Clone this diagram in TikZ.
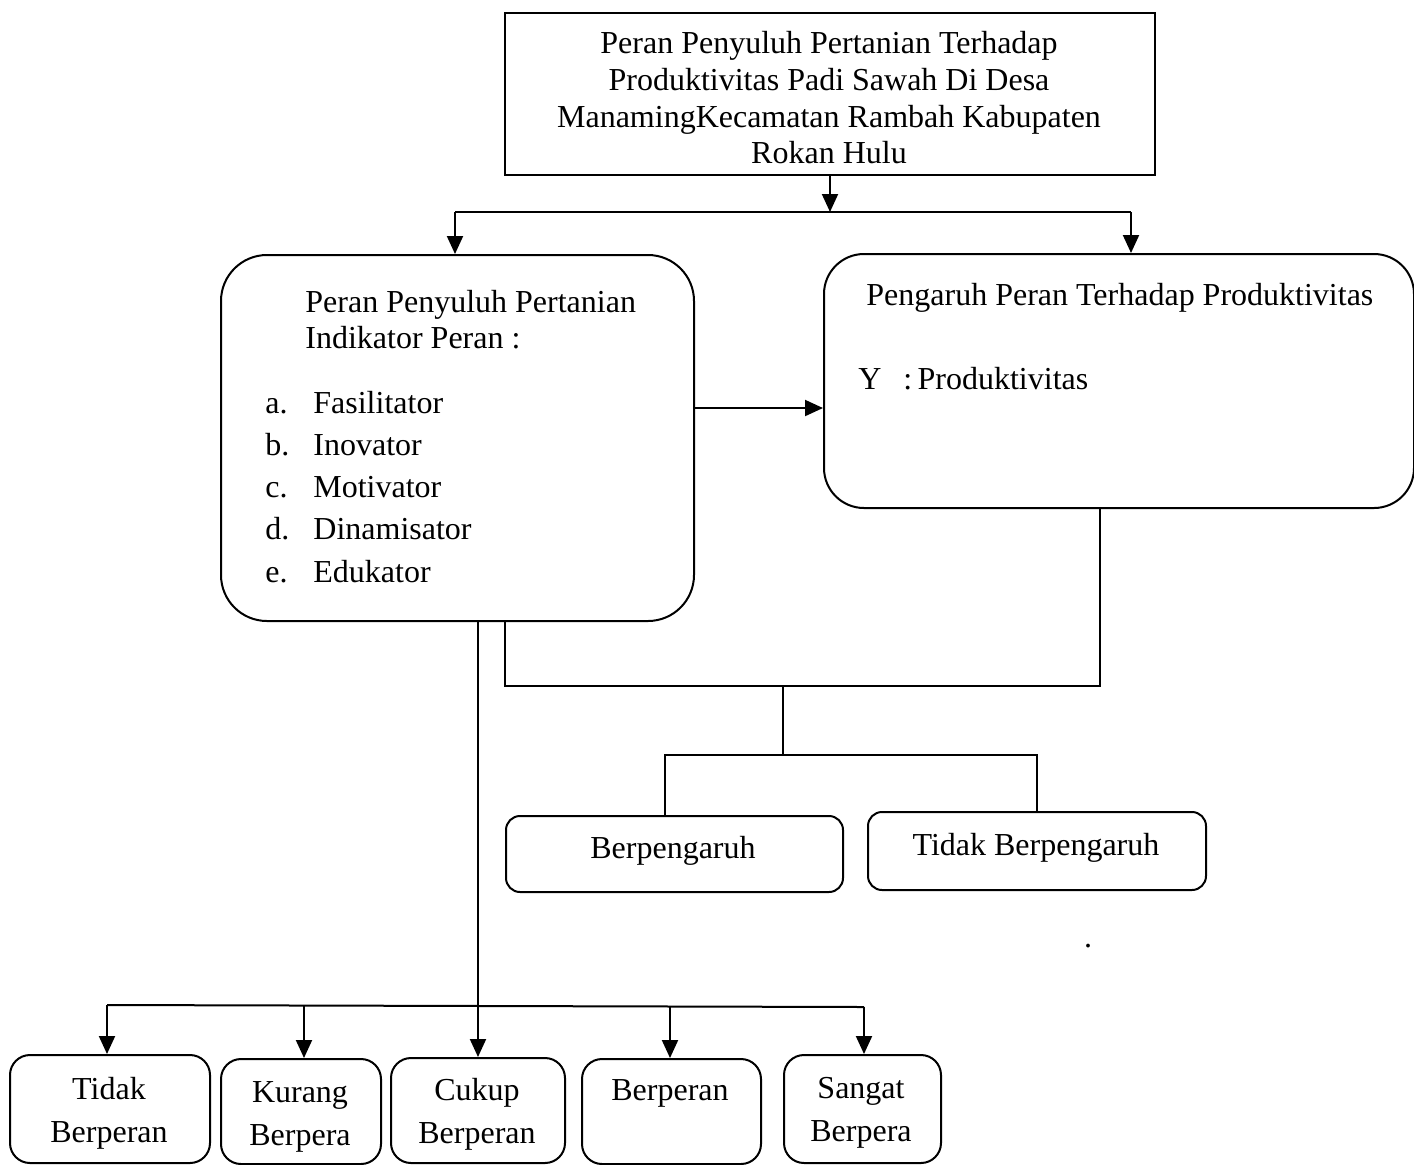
\documentclass[tikz,border=0pt]{standalone}
\usepackage{fontspec}
\setmainfont{Liberation Serif}
\usetikzlibrary{arrows.meta}
\begin{document}
\begin{tikzpicture}[x=0.5pt,y=-0.5pt,
  box/.style={draw, line width=1pt, inner sep=0pt, anchor=north west},
  txt/.style={inner sep=0pt, anchor=base, font=\fontsize{16pt}{18pt}\selectfont},
  txtl/.style={txt, anchor=base west},
  ln/.style={line width=1pt},
  arr/.style={line width=1pt, -{Triangle[length=9pt,width=8pt]}}]
\useasboundingbox (0,0) rectangle (1414,1164);
% boxes
\node[box, minimum width=325pt, minimum height=81pt] (top) at (504,12) {};
\node[box, rounded corners=23pt, minimum width=236.5pt, minimum height=183pt] (L) at (220,254) {};
\node[box, rounded corners=20pt, minimum width=295pt, minimum height=127pt] (R) at (823,253) {};
\node[box, rounded corners=7pt, minimum width=168.5pt, minimum height=38pt] (B1) at (505,815) {};
\node[box, rounded corners=7pt, minimum width=169pt, minimum height=39pt] (B2) at (867,811) {};
\node[box, rounded corners=10pt, minimum width=100pt, minimum height=54pt] (T1) at (9,1054) {};
\node[box, rounded corners=10pt, minimum width=80pt, minimum height=52.5pt] (T2) at (220,1058) {};
\node[box, rounded corners=10pt, minimum width=87pt, minimum height=52.5pt] (T3) at (390,1057) {};
\node[box, rounded corners=10pt, minimum width=89.5pt, minimum height=52.5pt] (T4) at (581,1058) {};
\node[box, rounded corners=10pt, minimum width=78.5pt, minimum height=54pt] (T5) at (783,1054) {};
% texts
\node[txt] (t1) at (829,53) {Peran Penyuluh Pertanian Terhadap};
\node[txt] (t2) at (829,90) {Produktivitas Padi Sawah Di Desa};
\node[txt] (t3) at (829,127) {ManamingKecamatan Rambah Kabupaten};
\node[txt] (t4) at (829,163) {Rokan Hulu};
\node[txtl] (l1) at (305,312) {Peran Penyuluh Pertanian};
\node[txtl] (l2) at (305,348) {Indikator Peran :};
\node[txtl] (la) at (265,413) {a.};
\node[txtl] (lb) at (265,455) {b.};
\node[txtl] (lc) at (265,497) {c.};
\node[txtl] (ld) at (265,539) {d.};
\node[txtl] (le) at (265,582) {e.};
\node[txtl] (ia) at (313,413) {Fasilitator};
\node[txtl] (ib) at (313,455) {Inovator};
\node[txtl] (ic) at (313,497) {Motivator};
\node[txtl] (id) at (313,539) {Dinamisator};
\node[txtl] (ie) at (313,582) {Edukator};
\node[txtl] (r1) at (866,305) {Pengaruh Peran Terhadap Produktivitas};
\node[txtl] (r2) at (858,389) {Y};
\node[txtl] (r3) at (903,389) {:\,Produktivitas};
\node[txt] (b1t) at (673,858) {Berpengaruh};
\node[txt] (b2t) at (1036,855) {Tidak Berpengaruh};
\node[txt] (k1a) at (109,1099) {Tidak};
\node[txt] (k1b) at (109,1142) {Berperan};
\node[txt] (k2a) at (300,1102) {Kurang};
\node[txt] (k2b) at (300,1145) {Berpera};
\node[txt] (k3a) at (477,1100) {Cukup};
\node[txt] (k3b) at (477,1143) {Berperan};
\node[txt] (k4a) at (670,1100) {Berperan};
\node[txt] (k5a) at (861,1098) {Sangat};
\node[txt] (k5b) at (861,1141) {Berpera};
\node[txt] (dot) at (1088,947) {.};
% connectors
\coordinate (jt) at (829,212);
\coordinate (jl) at (455,212);
\coordinate (jr) at (1131,212);
\draw[arr] (top.south) -- (top.south |- jt);
\draw[ln] (jl) -- (jr);
\draw[arr] (jl) -- (jl |- L.north);
\draw[arr] (jr) -- (jr |- R.north);
\coordinate (ha) at (693,408);
\draw[arr] (ha -| L.east) -- (ha -| R.west);
\coordinate (m1) at (505,686);
\coordinate (m2) at (1100,686);
\coordinate (mc) at (783,686);
\draw[ln] (m1 |- L.south) -- (m1) -- (m2) -- (m2 |- R.south);
\coordinate (s1) at (665,755);
\coordinate (s2) at (1037,755);
\draw[ln] (mc) -- (mc |- s1);
\draw[ln] (s1 |- B1.north) -- (s1) -- (s2) -- (s2 |- B2.north);
\coordinate (hl) at (107,1005);
\coordinate (hr) at (864,1007);
\draw[ln] (hl) -- (hr);
\draw[arr] (T3.north |- L.south) -- (T3.north);
\draw[arr] (hl) -- (hl |- T1.north);
\draw[arr] (304,1005.4) coordinate (h2) -- (h2 |- T2.north);
\draw[arr] (670,1006.4) coordinate (h4) -- (h4 |- T4.north);
\draw[arr] (hr) -- (hr |- T5.north);
\end{tikzpicture}
\end{document}
